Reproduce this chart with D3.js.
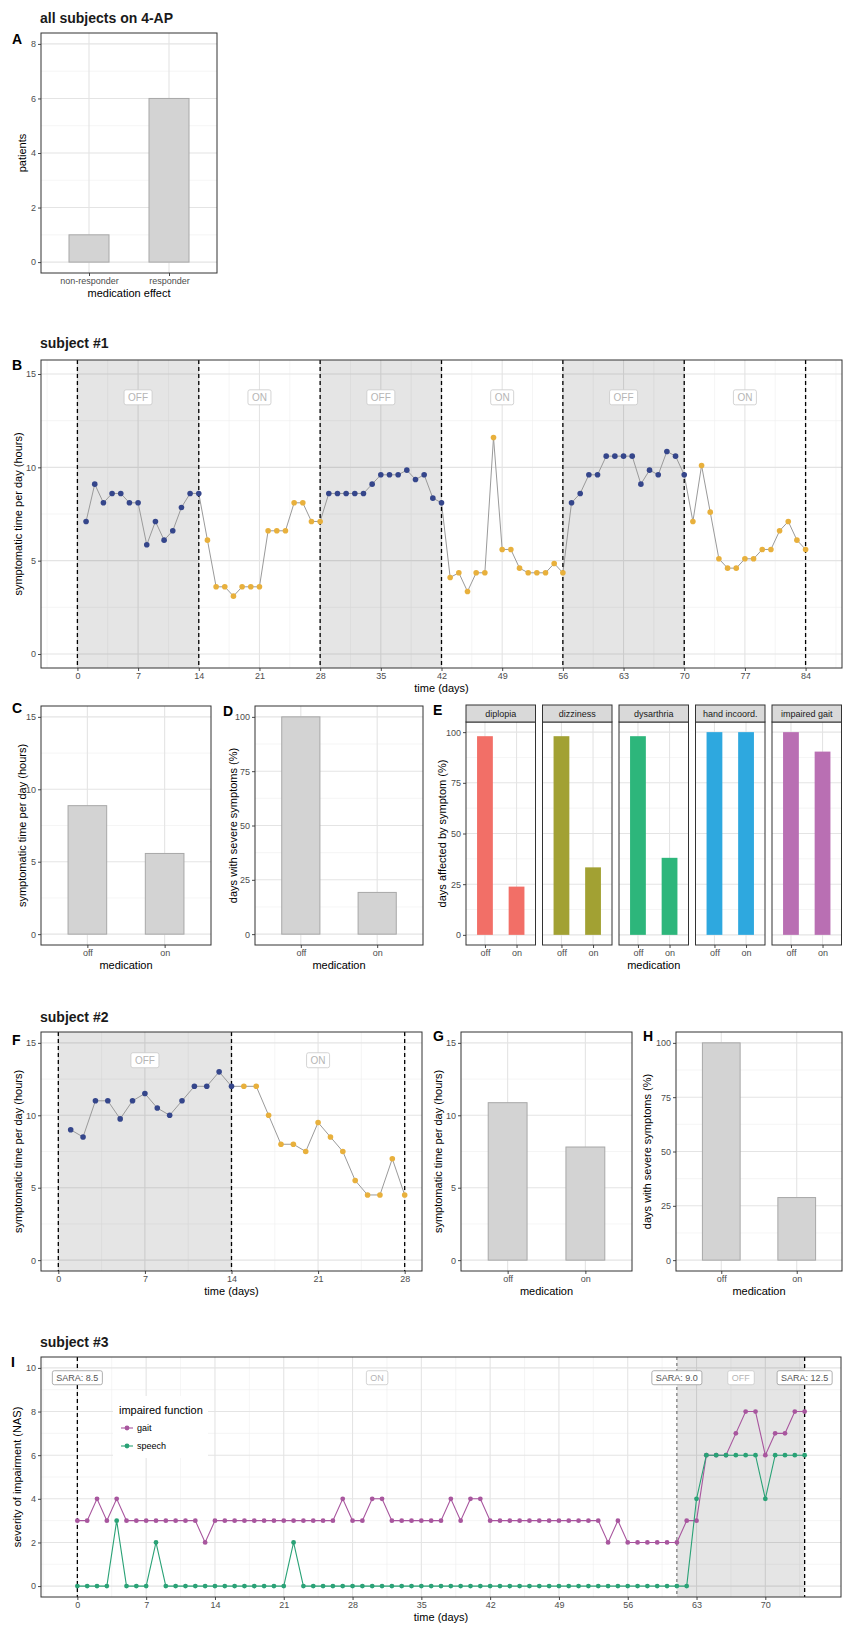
<!DOCTYPE html>
<html>
<head>
<meta charset="utf-8">
<script src="https://cdn.jsdelivr.net/npm/d3@7"></script>
<style>
  body { margin: 0; background: #fff; }
</style>
</head>
<body>
<svg id="canvas" width="843" height="1627"></svg>
<script>
// ---------------------------------------------------------------- data

// A: all subjects
var responseCats = ['non-responder', 'responder'];
var responseCounts = [1, 6];

// B: subject #1, symptomatic hours per day (day 1..84)
var s1Hours = [
  7.1, 9.1, 8.1, 8.6, 8.6, 8.1, 8.1, 5.85, 7.1, 6.1, 6.6, 7.85, 8.6, 8.6,
  6.1, 3.6, 3.6, 3.1, 3.6, 3.6, 3.6, 6.6, 6.6, 6.6, 8.1, 8.1, 7.1, 7.1,
  8.6, 8.6, 8.6, 8.6, 8.6, 9.1, 9.6, 9.6, 9.6, 9.85, 9.35, 9.6, 8.35, 8.1,
  4.1, 4.35, 3.35, 4.35, 4.35, 11.6, 5.6, 5.6, 4.6, 4.35, 4.35, 4.35, 4.85, 4.35,
  8.1, 8.6, 9.6, 9.6, 10.6, 10.6, 10.6, 10.6, 9.1, 9.85, 9.6, 10.85, 10.6, 9.6,
  7.1, 10.1, 7.6, 5.1, 4.6, 4.6, 5.1, 5.1, 5.6, 5.6, 6.6, 7.1, 6.1, 5.6
];
var s1PeriodStart = [0, 14, 28, 42, 56, 70];
var s1PeriodEnd = [14, 28, 42, 56, 70, 84];
var s1PeriodLabel = ['OFF', 'ON', 'OFF', 'ON', 'OFF', 'ON'];
var dayTicks84 = [0, 7, 14, 21, 28, 35, 42, 49, 56, 63, 70, 77, 84];

// C, D, E: subject #1 summaries
var medCats = ['off', 'on'];
var s1MeanHours = [8.87, 5.57];
var s1SevereDays = [100, 19.2];
var symptoms = ['diplopia', 'dizziness', 'dysarthria', 'hand incoord.', 'impaired gait'];
var symptomOff = [98, 98, 98, 100, 100];
var symptomOn = [23.8, 33.3, 38, 100, 90.4];

// F, G, H: subject #2 (day 1..28)
var s2Hours = [9, 8.5, 11, 11, 9.75, 11, 11.5, 10.5, 10, 11, 12, 12, 13, 12,
               12, 12, 10, 8, 8, 7.5, 9.5, 8.5, 7.5, 5.5, 4.5, 4.5, 7, 4.5];
var s2PeriodStart = [0, 14];
var s2PeriodEnd = [14, 28];
var s2PeriodLabel = ['OFF', 'ON'];
var dayTicks28 = [0, 7, 14, 21, 28];
var s2MeanHours = [10.87, 7.81];
var s2SevereDays = [100, 28.8];

// I: subject #3, NAS per day (day 0..74)
var s3Gait = [3, 3, 4, 3, 4, 3, 3, 3, 3, 3, 3, 3, 3, 2, 3, 3, 3, 3, 3, 3,
              3, 3, 3, 3, 3, 3, 3, 4, 3, 3, 4, 4, 3, 3, 3, 3, 3, 3, 4, 3,
              4, 4, 3, 3, 3, 3, 3, 3, 3, 3, 3, 3, 3, 3, 2, 3, 2, 2, 2, 2,
              2, 2, 3, 3, 6, 6, 6, 7, 8, 8, 6, 7, 7, 8, 8];
var s3Speech = [0, 0, 0, 0, 3, 0, 0, 0, 2, 0, 0, 0, 0, 0, 0, 0, 0, 0, 0, 0,
                0, 0, 2, 0, 0, 0, 0, 0, 0, 0, 0, 0, 0, 0, 0, 0, 0, 0, 0, 0,
                0, 0, 0, 0, 0, 0, 0, 0, 0, 0, 0, 0, 0, 0, 0, 0, 0, 0, 0, 0,
                0, 0, 0, 4, 6, 6, 6, 6, 6, 6, 4, 6, 6, 6, 6];
var s3PeriodStart = [0, 61];
var s3PeriodEnd = [61, 74];
var s3PeriodLabel = ['ON', 'OFF'];
var s3SaraDays = [0, 61, 74];
var s3SaraScores = ['SARA: 8.5', 'SARA: 9.0', 'SARA: 12.5'];
var dayTicks70 = [0, 7, 14, 21, 28, 35, 42, 49, 56, 63, 70];

// ---------------------------------------------------------------- style
var FONT = '"Liberation Sans", Arial, Helvetica, sans-serif';
var colOff = '#35468b', colOn = '#e8b03c';
var symptomColors = ['#f26f67', '#a2a133', '#2db67b', '#2ea8df', '#b96fb3'];
var gaitColor = '#a8569e', speechColor = '#2aa276';
var barFill = '#d3d3d3', barStroke = '#a8a8a8';

var svg = d3.select('#canvas');

// ---------------------------------------------------------------- helpers
function expand(lo, hi) { var e = (hi - lo) * 0.05; return [lo - e, hi + e]; }

function minorOf(major, dom) {
  var step = major[1] - major[0], out = [];
  for (var v = major[0] - step / 2; v <= dom[1]; v += step)
    if (v >= dom[0]) out.push(v);
  return out;
}

function panelBase(b, xs, ys, grid) {
  var g = svg.append('g');
  g.append('rect').attr('x', b.x0).attr('y', b.y0)
    .attr('width', b.x1 - b.x0).attr('height', b.y1 - b.y0).attr('fill', '#fff');
  var gg = g.append('g');
  function hl(v, w, c) {
    gg.append('line').attr('x1', b.x0).attr('x2', b.x1).attr('y1', ys(v)).attr('y2', ys(v))
      .attr('stroke', c).attr('stroke-width', w);
  }
  function vl(v, w, c) {
    gg.append('line').attr('y1', b.y0).attr('y2', b.y1).attr('x1', xs(v)).attr('x2', xs(v))
      .attr('stroke', c).attr('stroke-width', w);
  }
  (grid.yMinor || []).forEach(function(v) { hl(v, 0.6, '#eeeeee'); });
  (grid.xMinor || []).forEach(function(v) { vl(v, 0.6, '#eeeeee'); });
  (grid.yMajor || []).forEach(function(v) { hl(v, 1.1, '#e4e4e4'); });
  (grid.xMajor || []).forEach(function(v) { vl(v, 1.1, '#e4e4e4'); });
  return g;
}

function border(b) {
  svg.append('rect').attr('x', b.x0).attr('y', b.y0)
    .attr('width', b.x1 - b.x0).attr('height', b.y1 - b.y0)
    .attr('fill', 'none').attr('stroke', '#333').attr('stroke-width', 1);
}

function styleAxis(ax) {
  ax.attr('font-family', FONT).attr('font-size', 9);
  ax.select('.domain').remove();
  ax.selectAll('.tick line').attr('stroke', '#333').attr('stroke-width', 0.9);
  ax.selectAll('.tick text').attr('fill', '#4d4d4d');
}
function axisLeft(b, ys, ticks) {
  var ax = svg.append('g').attr('transform', 'translate(' + b.x0 + ',0)')
    .call(d3.axisLeft(ys).tickValues(ticks).tickSize(3).tickPadding(2));
  styleAxis(ax);
}
function axisBottom(b, xs, ticks) {
  var a = d3.axisBottom(xs).tickSize(3).tickPadding(2);
  if (ticks) a.tickValues(ticks);
  var ax = svg.append('g').attr('transform', 'translate(0,' + b.y1 + ')').call(a);
  styleAxis(ax);
}

function yTitle(s, x, yc) {
  svg.append('text').attr('transform', 'translate(' + x + ',' + yc + ') rotate(-90)')
    .attr('text-anchor', 'middle').attr('dy', '0.35em')
    .attr('font-family', FONT).attr('font-size', 11).attr('fill', '#000').text(s);
}
function xTitle(s, xc, y) {
  svg.append('text').attr('x', xc).attr('y', y).attr('text-anchor', 'middle')
    .attr('font-family', FONT).attr('font-size', 11).attr('fill', '#000').text(s);
}
function letter(s, x, yc) {
  svg.append('text').attr('x', x).attr('y', yc).attr('dy', '0.36em')
    .attr('font-family', FONT).attr('font-size', 14).attr('font-weight', 'bold').text(s);
}
function heading(s, x, yc) {
  svg.append('text').attr('x', x).attr('y', yc).attr('dy', '0.36em')
    .attr('font-family', FONT).attr('font-size', 14).attr('font-weight', 'bold').attr('fill', '#1a1a1a').text(s);
}
function tag(parent, x, y, s, fg, bd, fs) {
  var t = parent.append('text').attr('x', x).attr('y', y).attr('dy', '0.35em')
    .attr('text-anchor', 'middle').attr('font-family', FONT).attr('font-size', fs)
    .attr('fill', fg).text(s);
  var bb = t.node().getBBox();
  parent.append('rect').attr('x', bb.x - 4).attr('y', y - fs / 2 - 2.5)
    .attr('width', bb.width + 8).attr('height', fs + 5).attr('rx', 2)
    .attr('fill', '#fff').attr('stroke', bd).attr('stroke-width', 0.8);
  t.raise();
}

// ---------------------------------------------------------------- bar panels
function barPanel(b, cats, vals, yTop, yTicks, yLabel, yLabelX, xLabel) {
  var xs = d3.scalePoint().domain(cats).range([b.x0, b.x1]).padding(0.6);
  var ys = d3.scaleLinear().domain(expand(0, yTop)).range([b.y1, b.y0]);
  var g = panelBase(b, xs, ys, { xMajor: cats, yMajor: yTicks, yMinor: minorOf(yTicks, ys.domain()) });
  var bw = xs.step() * 0.5;
  g.selectAll('rect.bar').data(cats).enter().append('rect').attr('class', 'bar')
    .attr('x', function(d) { return xs(d) - bw / 2; }).attr('width', bw)
    .attr('y', function(d, i) { return ys(vals[i]); })
    .attr('height', function(d, i) { return ys(0) - ys(vals[i]); })
    .attr('fill', barFill).attr('stroke', barStroke).attr('stroke-width', 1);
  border(b);
  axisLeft(b, ys, yTicks);
  axisBottom(b, xs);
  yTitle(yLabel, yLabelX, (b.y0 + b.y1) / 2);
  xTitle(xLabel, (b.x0 + b.x1) / 2, b.y1 + 24);
}

// ---------------------------------------------------------------- time panels
function timePanel(b, hours, pStart, pEnd, pLabel, xTicks, xMax, labelY) {
  var xs = d3.scaleLinear().domain(expand(0, xMax)).range([b.x0, b.x1]);
  var ys = d3.scaleLinear().domain(expand(0, 15)).range([b.y1, b.y0]);
  var yTicks = [0, 5, 10, 15];
  var g = panelBase(b, xs, ys, {
    xMajor: xTicks, xMinor: minorOf(xTicks, xs.domain()),
    yMajor: yTicks, yMinor: minorOf(yTicks, ys.domain())
  });
  pStart.forEach(function(s, i) {
    if (pLabel[i] === 'OFF')
      g.append('rect').attr('x', xs(s)).attr('width', xs(pEnd[i]) - xs(s))
        .attr('y', b.y0).attr('height', b.y1 - b.y0)
        .attr('fill', '#000').attr('fill-opacity', 0.1);
  });
  var pts = hours.map(function(v, i) {
    var day = i + 1, k = 0;
    pStart.forEach(function(s, j) { if (day > s && day <= pEnd[j]) k = j; });
    return { day: day, v: v, label: pLabel[k] };
  });
  g.append('path').attr('d', d3.line().x(function(d) { return xs(d.day); }).y(function(d) { return ys(d.v); })(pts))
    .attr('fill', 'none').attr('stroke', '#9a9a9a').attr('stroke-width', 1);
  var bounds = pStart.concat([pEnd[pEnd.length - 1]]);
  bounds.forEach(function(d) {
    g.append('line').attr('x1', xs(d)).attr('x2', xs(d)).attr('y1', b.y0).attr('y2', b.y1)
      .attr('stroke', '#000').attr('stroke-width', 1.3).attr('stroke-dasharray', '4,3');
  });
  g.selectAll('circle').data(pts).enter().append('circle')
    .attr('cx', function(d) { return xs(d.day); }).attr('cy', function(d) { return ys(d.v); })
    .attr('r', 2.8).attr('fill', function(d) { return d.label === 'OFF' ? colOff : colOn; });
  pStart.forEach(function(s, i) {
    tag(g, xs((s + pEnd[i]) / 2), ys(labelY), pLabel[i], '#b5b5b5', '#c9c9c9', 10);
  });
  border(b);
  axisLeft(b, ys, yTicks);
  axisBottom(b, xs, xTicks);
  yTitle('symptomatic time per day (hours)', 18, (b.y0 + b.y1) / 2);
  xTitle('time (days)', (b.x0 + b.x1) / 2, b.y1 + 24);
}

// ---------------------------------------------------------------- A
heading('all subjects on 4-AP', 40, 18);
letter('A', 12, 39);
barPanel({ x0: 41, x1: 217, y0: 33, y1: 273 }, responseCats, responseCounts, 8, [0, 2, 4, 6, 8],
  'patients', 22, 'medication effect');

// ---------------------------------------------------------------- B
heading('subject #1', 40, 343);
letter('B', 12, 365);
timePanel({ x0: 41, x1: 842, y0: 360, y1: 668 }, s1Hours, s1PeriodStart, s1PeriodEnd, s1PeriodLabel,
  dayTicks84, 84, 13.75);

// ---------------------------------------------------------------- C, D
letter('C', 12, 708);
barPanel({ x0: 41, x1: 211, y0: 706, y1: 945 }, medCats, s1MeanHours, 15, [0, 5, 10, 15],
  'symptomatic time per day (hours)', 22, 'medication');
letter('D', 223, 711);
barPanel({ x0: 255, x1: 423, y0: 706, y1: 945 }, medCats, s1SevereDays, 100, [0, 25, 50, 75, 100],
  'days with severe symptoms (%)', 233, 'medication');

// ---------------------------------------------------------------- E (facets)
letter('E', 433, 710);
(function() {
  var facetLeft = 466, facetW = 69.5, facetGap = 7, stripTop = 705, top = 722, bottom = 945;
  var yTicks = [0, 25, 50, 75, 100];
  var ys = d3.scaleLinear().domain(expand(0, 100)).range([bottom, top]);
  symptoms.forEach(function(name, i) {
    var b = { x0: facetLeft + i * (facetW + facetGap), y0: top, y1: bottom };
    b.x1 = b.x0 + facetW;
    var xs = d3.scalePoint().domain(medCats).range([b.x0, b.x1]).padding(0.6);
    var g = panelBase(b, xs, ys, { xMajor: medCats, yMajor: yTicks, yMinor: minorOf(yTicks, ys.domain()) });
    var vals = [symptomOff[i], symptomOn[i]];
    var bw = xs.step() * 0.5;
    g.selectAll('rect.bar').data(medCats).enter().append('rect').attr('class', 'bar')
      .attr('x', function(d) { return xs(d) - bw / 2; }).attr('width', bw)
      .attr('y', function(d, j) { return ys(vals[j]); })
      .attr('height', function(d, j) { return ys(0) - ys(vals[j]); })
      .attr('fill', symptomColors[i]);
    border(b);
    svg.append('rect').attr('x', b.x0).attr('y', stripTop).attr('width', facetW).attr('height', top - stripTop)
      .attr('fill', '#d9d9d9').attr('stroke', '#333').attr('stroke-width', 1);
    svg.append('text').attr('x', (b.x0 + b.x1) / 2).attr('y', (stripTop + top) / 2).attr('dy', '0.35em')
      .attr('text-anchor', 'middle').attr('font-family', FONT).attr('font-size', 9)
      .attr('fill', '#1a1a1a').text(name);
    if (i === 0) axisLeft(b, ys, yTicks);
    axisBottom(b, xs);
  });
  yTitle('days affected by symptom (%)', 442, (top + bottom) / 2);
  xTitle('medication', (facetLeft + facetLeft + 5 * facetW + 4 * facetGap) / 2, bottom + 24);
})();

// ---------------------------------------------------------------- F, G, H
heading('subject #2', 40, 1017);
letter('F', 12, 1040);
timePanel({ x0: 41, x1: 422, y0: 1032, y1: 1271 }, s2Hours, s2PeriodStart, s2PeriodEnd, s2PeriodLabel,
  dayTicks28, 28, 13.8);
letter('G', 433, 1036);
barPanel({ x0: 461, x1: 632, y0: 1032, y1: 1271 }, medCats, s2MeanHours, 15, [0, 5, 10, 15],
  'symptomatic time per day (hours)', 438, 'medication');
letter('H', 643, 1036);
barPanel({ x0: 676, x1: 842, y0: 1032, y1: 1271 }, medCats, s2SevereDays, 100, [0, 25, 50, 75, 100],
  'days with severe symptoms (%)', 647, 'medication');

// ---------------------------------------------------------------- I
heading('subject #3', 40, 1342);
letter('I', 11, 1362);
(function() {
  var b = { x0: 41, x1: 841, y0: 1357, y1: 1597 };
  var xs = d3.scaleLinear().domain(expand(0, 74)).range([b.x0, b.x1]);
  var ys = d3.scaleLinear().domain(expand(0, 10)).range([b.y1, b.y0]);
  var yTicks = [0, 2, 4, 6, 8, 10];
  var g = panelBase(b, xs, ys, {
    xMajor: dayTicks70, xMinor: minorOf(dayTicks70, xs.domain()),
    yMajor: yTicks, yMinor: minorOf(yTicks, ys.domain())
  });
  s3PeriodStart.forEach(function(s, i) {
    if (s3PeriodLabel[i] === 'OFF')
      g.append('rect').attr('x', xs(s)).attr('width', xs(s3PeriodEnd[i]) - xs(s))
        .attr('y', b.y0).attr('height', b.y1 - b.y0).attr('fill', '#000').attr('fill-opacity', 0.1);
  });
  // legend background
  var lg = { x: 113, y: 1396, w: 95, h: 62 };
  g.append('rect').attr('x', lg.x).attr('y', lg.y).attr('width', lg.w).attr('height', lg.h).attr('fill', '#fff');

  s3SaraDays.forEach(function(d, i) {
    var heavy = i !== 1;
    g.append('line').attr('x1', xs(d)).attr('x2', xs(d)).attr('y1', b.y0).attr('y2', b.y1)
      .attr('stroke', heavy ? '#000' : '#333').attr('stroke-width', heavy ? 1.3 : 0.8)
      .attr('stroke-dasharray', heavy ? '4,3' : '3,3');
  });
  var series = [{ name: 'gait', vals: s3Gait, col: gaitColor }, { name: 'speech', vals: s3Speech, col: speechColor }];
  var line = d3.line().x(function(d, i) { return xs(i); }).y(function(d) { return ys(d); });
  series.forEach(function(s) {
    g.append('path').attr('d', line(s.vals)).attr('fill', 'none').attr('stroke', s.col).attr('stroke-width', 1.1);
    g.selectAll('circle.' + s.name).data(s.vals).enter().append('circle').attr('class', s.name)
      .attr('cx', function(d, i) { return xs(i); }).attr('cy', function(d) { return ys(d); })
      .attr('r', 2.4).attr('fill', s.col);
  });
  var labY = ys(9.55);
  s3PeriodStart.forEach(function(s, i) {
    tag(g, xs((s + s3PeriodEnd[i]) / 2), labY, s3PeriodLabel[i], '#b5b5b5', '#c9c9c9', 9);
  });
  s3SaraDays.forEach(function(d, i) {
    tag(g, xs(d), labY, s3SaraScores[i], '#555', '#9a9a9a', 9);
  });
  // legend
  g.append('text').attr('x', 119).attr('y', 1410).attr('dy', '0.35em').attr('font-family', FONT)
    .attr('font-size', 11).attr('fill', '#000').text('impaired function');
  series.forEach(function(s, i) {
    var ky = 1428 + i * 18;
    g.append('line').attr('x1', 121).attr('x2', 133).attr('y1', ky).attr('y2', ky)
      .attr('stroke', s.col).attr('stroke-width', 1.1);
    g.append('circle').attr('cx', 127).attr('cy', ky).attr('r', 2.4).attr('fill', s.col);
    g.append('text').attr('x', 137).attr('y', ky).attr('dy', '0.35em').attr('font-family', FONT)
      .attr('font-size', 9).attr('fill', '#000').text(s.name);
  });
  border(b);
  axisLeft(b, ys, yTicks);
  axisBottom(b, xs, dayTicks70);
  yTitle('severity of impairment (NAS)', 17, (b.y0 + b.y1) / 2);
  xTitle('time (days)', (b.x0 + b.x1) / 2, b.y1 + 24);
})();
</script>
</body>
</html>
